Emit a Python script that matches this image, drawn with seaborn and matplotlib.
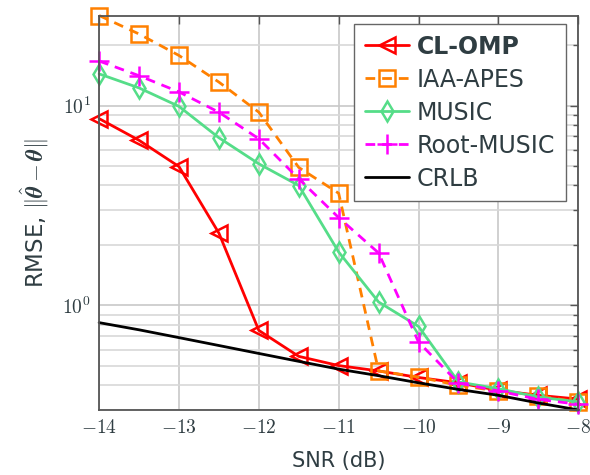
import numpy as np
import pandas as pd
import matplotlib
matplotlib.use('Agg')
import matplotlib.pyplot as plt
import seaborn as sns

# SNR grid (dB)
snr = [-14, -13.5, -13, -12.5, -12, -11.5, -11, -10.5, -10, -9.5, -9, -8.5, -8]

# RMSE
cl_omp = [8.6, 6.7, 4.95, 2.3, 0.75, 0.556, 0.50, 0.47, 0.436, 0.41, 0.376, 0.355, 0.34]
iaa_apes = [28.2, 22.8, 17.8, 13.1, 9.26, 4.9, 3.64, 0.47, 0.438, 0.398, 0.373, 0.352, 0.329]
music = [14.4, 12.25, 9.9, 6.9, 5.11, 3.98, 1.85, 1.04, 0.785, 0.414, 0.383, 0.348, 0.329]
root_music = [16.7, 14.1, 11.7, 9.26, 6.82, 4.3, 2.75, 1.83, 0.656, 0.409, 0.373, 0.339, 0.32]
crlb = [0.82, 0.755, 0.69, 0.63, 0.575, 0.525, 0.48, 0.445, 0.41, 0.38, 0.355, 0.325, 0.30]

sns.set_style('whitegrid')
plt.rcParams['font.family'] = ['DejaVu Sans']
plt.rcParams['mathtext.fontset'] = 'cm'

text_col = '#2f3d42'

fig = plt.figure(figsize=(5.9, 4.75), dpi=100)
ax = fig.add_axes([0.168, 0.137, 0.812, 0.829])

series = [
    ('CL-OMP', cl_omp, '#ff0000', '<', '-', 11),
    ('IAA-APES', iaa_apes, '#ff8000', 's', '--', 11),
    ('MUSIC', music, '#55dd88', 'd', '-', 10),
    ('Root-MUSIC', root_music, '#ff00ff', '+', '--', 14),
    ('CRLB', crlb, '#000000', None, '-', 0),
]

for name, vals, col, mk, ls, ms in series:
    df = pd.DataFrame({'snr': snr, 'rmse': vals})
    kw = dict(marker=mk, markersize=ms, markerfacecolor='none',
              markeredgecolor=col, markeredgewidth=1.8) if mk else {}
    sns.lineplot(data=df, x='snr', y='rmse', ax=ax, color=col,
                 linewidth=2.0, linestyle=ls, label=name, **kw)

for l in ax.get_lines():
    l.set_clip_on(False)
    if l.get_linestyle() == '--':
        l.set_dashes([3.5, 2.5])

ax.set_yscale('log')
ax.set_xlim(-14, -8)
ax.set_ylim(0.3, 28)
ax.set_xticks([-14, -13, -12, -11, -10, -9, -8])
ax.set_xticklabels([r'$-%d$' % abs(v) for v in [-14, -13, -12, -11, -10, -9, -8]])
ax.set_yticks([1, 10])
ax.set_yticklabels([r'$10^{0}$', r'$10^{1}$'])

ax.grid(True, which='major', color='#c8c8c8', linewidth=1.2)
ax.grid(True, which='minor', axis='y', color='#d8d8d8', linewidth=1.2)
ax.tick_params(which='both', direction='in', top=True, right=True,
               colors='#555555', labelcolor=text_col, labelsize=14)
ax.tick_params(which='major', length=6, width=1, pad=6)
ax.tick_params(which='minor', length=3.5, width=1)
for s in ax.spines.values():
    s.set_color('#555555')
    s.set_linewidth(1.3)
    s.set_visible(True)
    s.set_zorder(5)

ax.set_xlabel('SNR (dB)', fontsize=15, color=text_col, labelpad=10)
ax.set_ylabel(r'RMSE, $\|\hat{\boldsymbol{\theta}}-\boldsymbol{\theta}\|$',
              fontsize=16.5, color=text_col, labelpad=8)

leg = ax.legend(loc='upper right', bbox_to_anchor=(566 / 590, (475 - 24) / 475),
                bbox_transform=fig.transFigure, borderaxespad=0,
                fontsize=17, fancybox=False, framealpha=1,
                edgecolor='#666666', handlelength=1.85, handletextpad=0.35,
                borderpad=0.45, labelspacing=0.38)
leg.get_frame().set_linewidth(1.0)
leg.set_zorder(10)
for i, t in enumerate(leg.get_texts()):
    t.set_color(text_col)
    if i == 0:
        t.set_fontweight('bold')

fig.savefig('out.png', dpi=100)
